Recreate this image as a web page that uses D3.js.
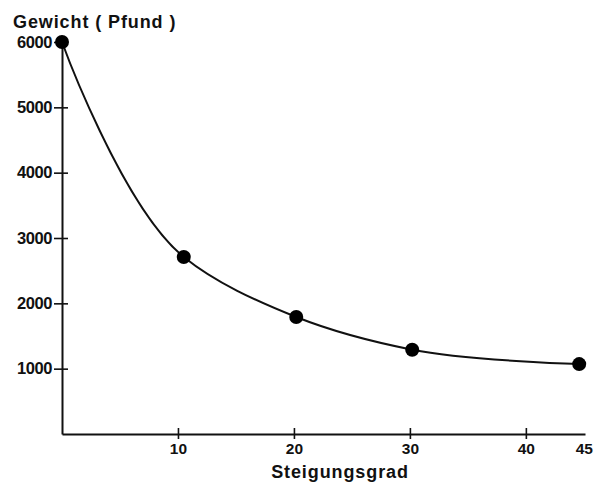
<!DOCTYPE html>
<html>
<head>
<meta charset="utf-8">
<script src="https://cdn.jsdelivr.net/npm/d3@7"></script>
<style>
  body { margin: 0; background: #fff; }
  text { font-family: "Liberation Sans", Arial, sans-serif; font-weight: bold; fill: #111; }
</style>
</head>
<body>
<div id="container"></div>
<script>
/* DATA */
const grade = [0, 10.5, 20.2, 30.2, 44.6];
const weight = [6000, 2710, 1790, 1290, 1070];
const xTicks = [10, 20, 30, 40, 45];
const yTicks = [1000, 2000, 3000, 4000, 5000, 6000];

/* CONSTANTS */
const width = 594, height = 484;

const svg = d3.select("#container")
  .append("svg")
  .attr("width", width)
  .attr("height", height)

/* SCALES */
const xScale = d3.scaleLinear()
  .domain([0, 45.1])
  .range([62, 585])

const yScale = d3.scaleLinear()
  .domain([0, 6000])
  .range([434, 42])

/* AXES */
const xAxis = d3.axisBottom(xScale)
  .tickValues(xTicks)
  .tickFormat(d3.format("d"))
  .tickSizeOuter(0)

const yAxis = d3.axisLeft(yScale)
  .tickValues(yTicks)
  .tickFormat(d3.format("d"))
  .tickSizeOuter(0)

const gx = svg.append("g")
  .attr("transform", `translate(0,${yScale(0)})`)
  .call(xAxis)

gx.select(".domain").attr("stroke", "#111").attr("stroke-width", 2)
gx.selectAll(".tick line")
  .attr("y1", -6).attr("y2", 5)
  .attr("stroke", "#111").attr("stroke-width", 1.6)
  .filter(d => d === 45).remove()
gx.selectAll(".tick text")
  .attr("y", 9)
  .attr("font-size", 15.5)
  .attr("font-family", null)
  .attr("fill", "#111")

const gy = svg.append("g")
  .attr("transform", `translate(${xScale(0)},0)`)
  .call(yAxis)

gy.select(".domain").attr("stroke", "#111").attr("stroke-width", 2)
gy.selectAll(".tick line")
  .attr("x1", -8).attr("x2", 6)
  .attr("stroke", "#111").attr("stroke-width", 1.6)
gy.selectAll(".tick text")
  .attr("x", -10)
  .attr("font-size", 16.5)
  .attr("letter-spacing", -0.4)
  .attr("font-family", null)
  .attr("fill", "#111")

/* LABELS */
svg.append("text")
  .attr("x", 13)
  .attr("y", 28)
  .attr("font-size", 18)
  .attr("letter-spacing", 0.9)
  .text("Gewicht ( Pfund )")

svg.append("text")
  .attr("x", 340)
  .attr("y", 478)
  .attr("text-anchor", "middle")
  .attr("font-size", 18)
  .attr("letter-spacing", 0.9)
  .text("Steigungsgrad")

/* CURVE */
const pts = grade.map((g, i) => ({g: g, w: weight[i]}))

const line = d3.line()
  .x(d => xScale(d.g))
  .y(d => yScale(d.w))
  .curve(d3.curveCatmullRom.alpha(1))

svg.append("path")
  .datum(pts)
  .attr("d", line)
  .attr("fill", "none")
  .attr("stroke", "#111")
  .attr("stroke-width", 2)

svg.selectAll("circle")
  .data(pts)
  .join("circle")
  .attr("cx", d => xScale(d.g))
  .attr("cy", d => yScale(d.w))
  .attr("r", 7)
  .attr("fill", "#000")
</script>
</body>
</html>
